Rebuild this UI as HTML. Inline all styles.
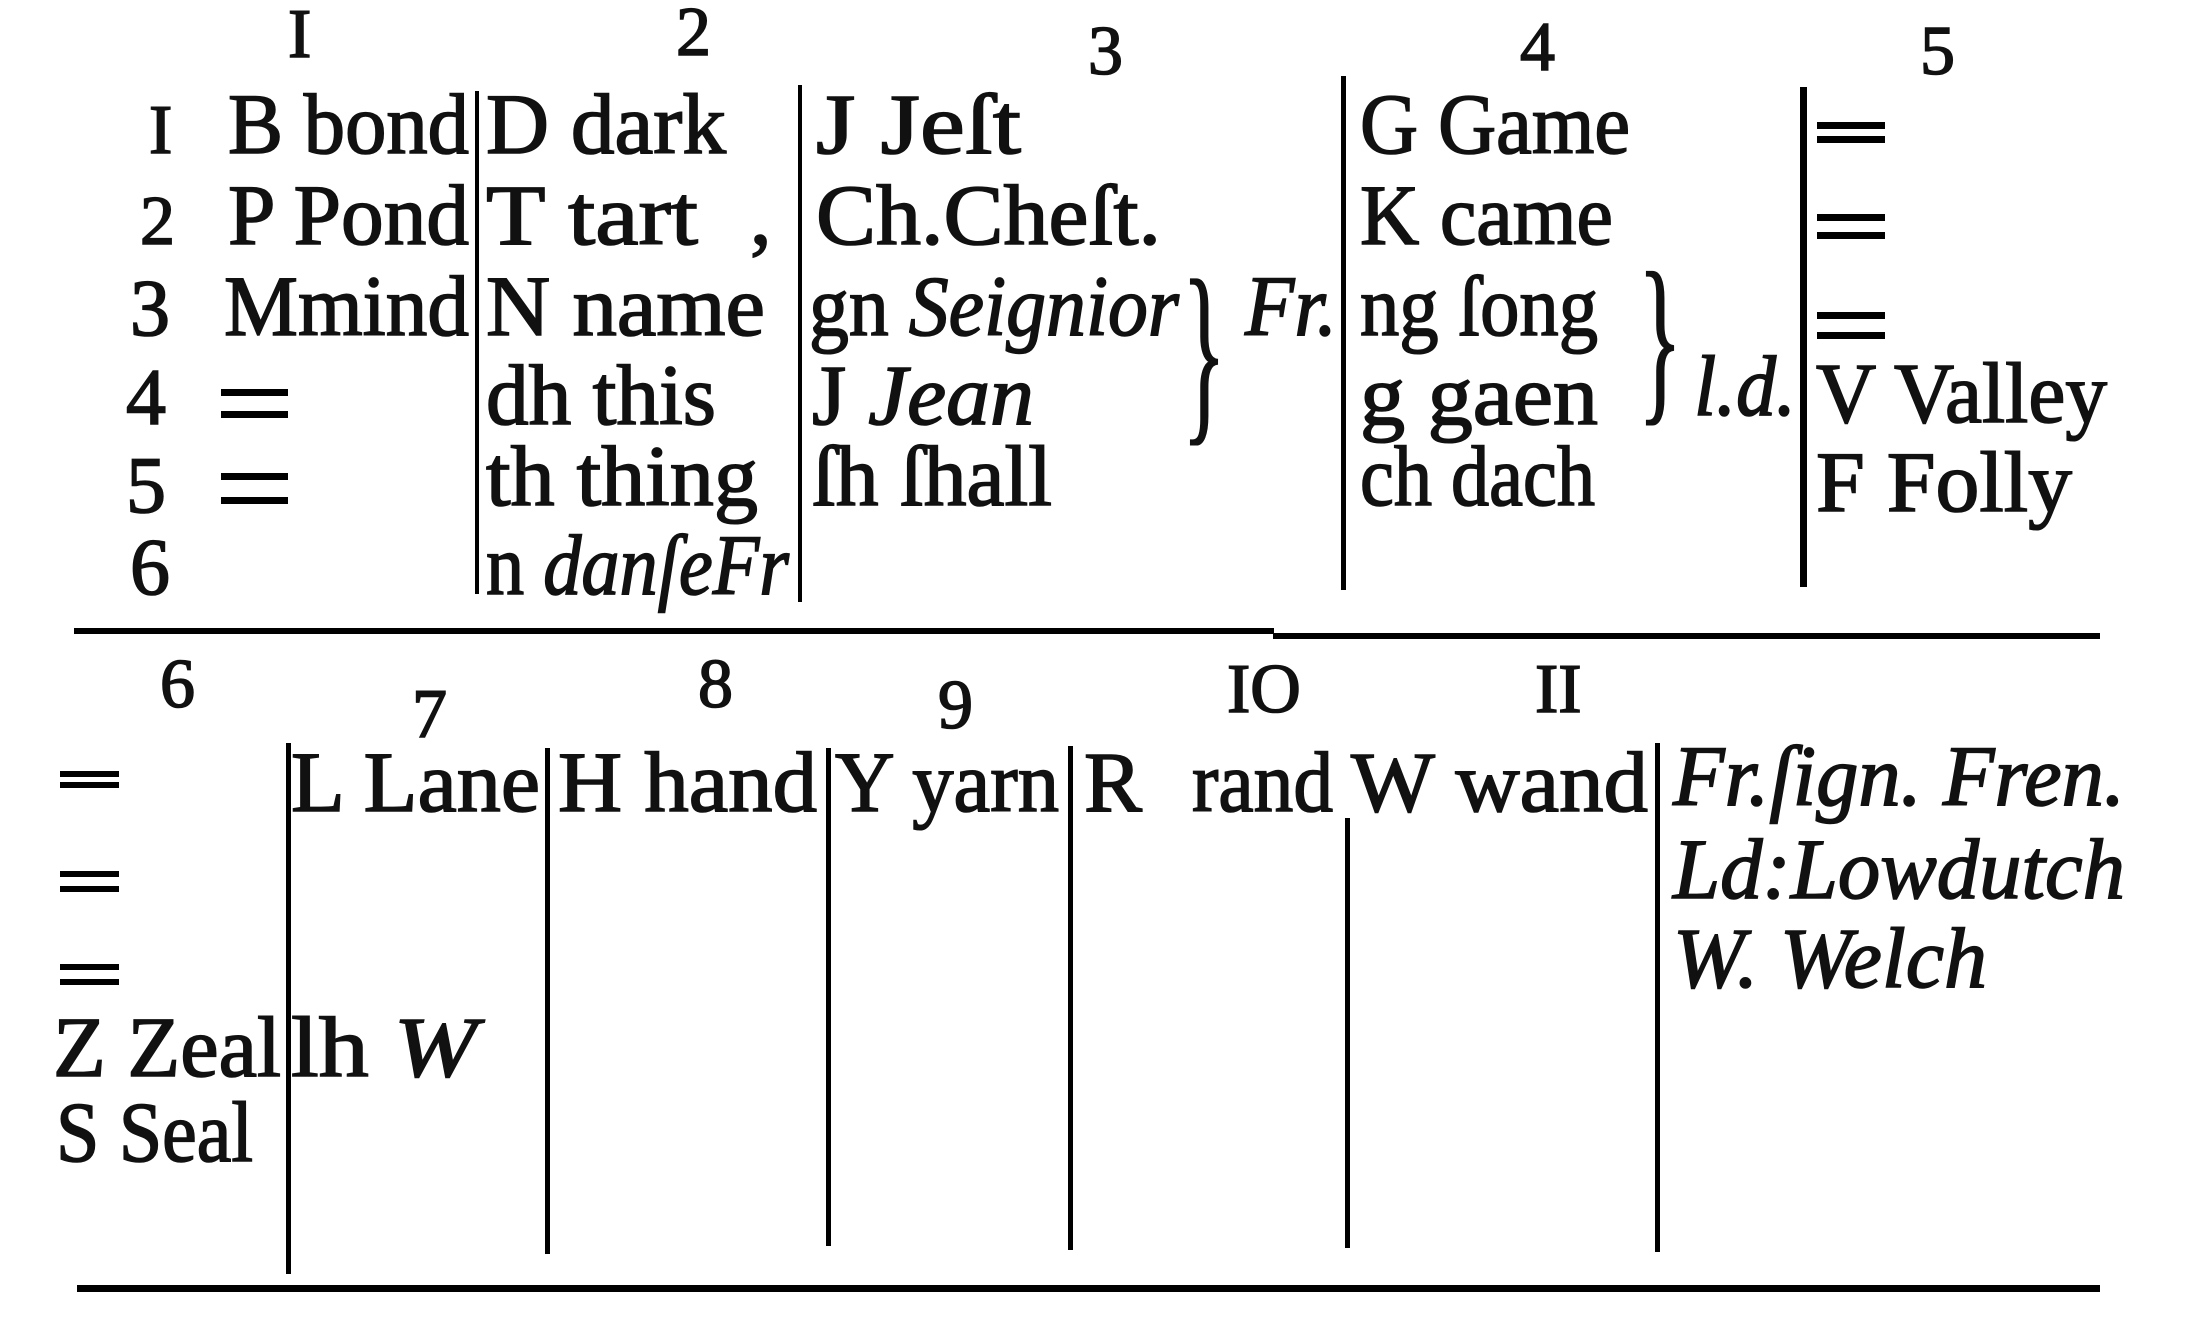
<!DOCTYPE html>
<html><head><meta charset="utf-8"><style>
html,body{margin:0;padding:0;background:#fff;}
svg{display:block;}
text{font-family:"Liberation Serif",serif;fill:#111;stroke:#111;stroke-width:1.6px;}
.i{font-style:italic;}
.n{font-size:70px;}
</style></head><body>
<svg width="2207" height="1330" viewBox="0 0 2207 1330" xmlns="http://www.w3.org/2000/svg">
<g font-size="86">
<text class="n" x="288" y="57">I</text>
<text class="n" x="676" y="55">2</text>
<text class="n" x="1088" y="74">3</text>
<text class="n" x="1520" y="70">4</text>
<text class="n" x="1920" y="74">5</text>
<text x="149" y="153" font-size="70">I</text>
<text x="140" y="244" font-size="70">2</text>
<text x="130" y="335" font-size="80">3</text>
<text x="126" y="424" font-size="80">4</text>
<text x="126" y="512" font-size="80">5</text>
<text x="130" y="594" font-size="80">6</text>

<text x="228" y="153" textLength="241" lengthAdjust="spacingAndGlyphs">B bond</text>
<text x="228" y="244" textLength="241" lengthAdjust="spacingAndGlyphs">P Pond</text>
<text x="224" y="335" textLength="245" lengthAdjust="spacingAndGlyphs">Mmind</text>
<rect x="221" y="389" width="67" height="7"/><rect x="221" y="411" width="67" height="7"/>
<rect x="221" y="473" width="67" height="7"/><rect x="221" y="497" width="67" height="7"/>

<text x="486" y="153" textLength="240" lengthAdjust="spacingAndGlyphs">D dark</text>
<text x="486" y="244" textLength="212" lengthAdjust="spacingAndGlyphs">T tart</text>
<text x="750" y="244">,</text>
<text x="486" y="335" textLength="279" lengthAdjust="spacingAndGlyphs">N name</text>
<text x="486" y="424" textLength="230" lengthAdjust="spacingAndGlyphs">dh this</text>
<text x="486" y="505" textLength="272" lengthAdjust="spacingAndGlyphs">th thing</text>
<text x="486" y="594" textLength="303" lengthAdjust="spacingAndGlyphs">n <tspan class="i">danſeFr</tspan></text>

<text x="816" y="153" textLength="205" lengthAdjust="spacingAndGlyphs">J  Jeſt</text>
<text x="816" y="244" textLength="345" lengthAdjust="spacingAndGlyphs">Ch.Cheſt.</text>
<text x="809" y="335" textLength="370" lengthAdjust="spacingAndGlyphs">gn <tspan class="i">Seignior</tspan></text>
<text x="812" y="424" textLength="222" lengthAdjust="spacingAndGlyphs">J <tspan class="i">Jean</tspan></text>
<text x="812" y="505" textLength="240" lengthAdjust="spacingAndGlyphs">ſh ſhall</text>
<text x="1182" y="418" font-size="200" textLength="44" lengthAdjust="spacingAndGlyphs">}</text>
<text class="i" x="1245" y="335" textLength="92" lengthAdjust="spacingAndGlyphs">Fr.</text>

<text x="1360" y="153" textLength="270" lengthAdjust="spacingAndGlyphs">G Game</text>
<text x="1360" y="244" textLength="253" lengthAdjust="spacingAndGlyphs">K came</text>
<text x="1360" y="335" textLength="238" lengthAdjust="spacingAndGlyphs">ng ſong</text>
<text x="1360" y="424" textLength="238" lengthAdjust="spacingAndGlyphs">g   gaen</text>
<text x="1360" y="505" textLength="235" lengthAdjust="spacingAndGlyphs">ch dach</text>
<text x="1638" y="400" font-size="185" textLength="44" lengthAdjust="spacingAndGlyphs">}</text>
<text class="i" x="1694" y="415" textLength="102" lengthAdjust="spacingAndGlyphs">l.d.</text>

<rect x="1817" y="122" width="68" height="7"/><rect x="1817" y="136" width="68" height="7"/>
<rect x="1817" y="214" width="68" height="7"/><rect x="1817" y="232" width="68" height="7"/>
<rect x="1817" y="312" width="68" height="7"/><rect x="1817" y="332" width="68" height="7"/>
<text x="1816" y="422" textLength="291" lengthAdjust="spacingAndGlyphs">V Valley</text>
<text x="1816" y="511" textLength="256" lengthAdjust="spacingAndGlyphs">F Folly</text>

<rect x="475" y="91" width="4" height="503"/>
<rect x="798" y="85" width="4" height="517"/>
<rect x="1341" y="76" width="5" height="514"/>
<rect x="1800" y="87" width="7" height="500"/>
<rect x="74" y="628" width="1200" height="6"/>
<rect x="1273" y="633" width="827" height="6"/>

<text class="n" x="160" y="707">6</text>
<text class="n" x="412" y="737">7</text>
<text class="n" x="698" y="707">8</text>
<text class="n" x="938" y="728">9</text>
<text class="n" x="1227" y="712" font-size="56">IO</text>
<text class="n" x="1535" y="712" font-size="56">II</text>

<rect x="60" y="771" width="59" height="6"/><rect x="60" y="782" width="59" height="6"/>
<rect x="60" y="871" width="59" height="6"/><rect x="60" y="886" width="59" height="6"/>
<rect x="60" y="964" width="59" height="6"/><rect x="60" y="979" width="59" height="6"/>
<text x="53" y="1076" textLength="228" lengthAdjust="spacingAndGlyphs">Z Zeal</text>
<text x="56" y="1161" textLength="197" lengthAdjust="spacingAndGlyphs">S Seal</text>

<text x="291" y="811" textLength="249" lengthAdjust="spacingAndGlyphs">L Lane</text>
<text x="291" y="1076" textLength="186" lengthAdjust="spacingAndGlyphs">lh <tspan class="i">W</tspan></text>
<text x="558" y="811" textLength="259" lengthAdjust="spacingAndGlyphs">H  hand</text>
<text x="835" y="811" textLength="224" lengthAdjust="spacingAndGlyphs">Y  yarn</text>
<text x="1084" y="811" textLength="58" lengthAdjust="spacingAndGlyphs">R</text>
<text x="1192" y="811" textLength="141" lengthAdjust="spacingAndGlyphs">rand</text>
<text x="1351" y="811" textLength="297" lengthAdjust="spacingAndGlyphs">W  wand</text>
<text class="i" x="1673" y="805" textLength="452" lengthAdjust="spacingAndGlyphs">Fr.ſign. Fren.</text>
<text class="i" x="1673" y="898" textLength="452" lengthAdjust="spacingAndGlyphs">Ld:Lowdutch</text>
<text class="i" x="1673" y="987" textLength="314" lengthAdjust="spacingAndGlyphs">W. Welch</text>

<rect x="286" y="743" width="5" height="531"/>
<rect x="545" y="748" width="5" height="506"/>
<rect x="826" y="748" width="5" height="498"/>
<rect x="1068" y="746" width="5" height="504"/>
<rect x="1345" y="818" width="5" height="430"/>
<rect x="1655" y="743" width="5" height="509"/>
<rect x="77" y="1285" width="2023" height="7"/>
</g>
</svg>
</body></html>
